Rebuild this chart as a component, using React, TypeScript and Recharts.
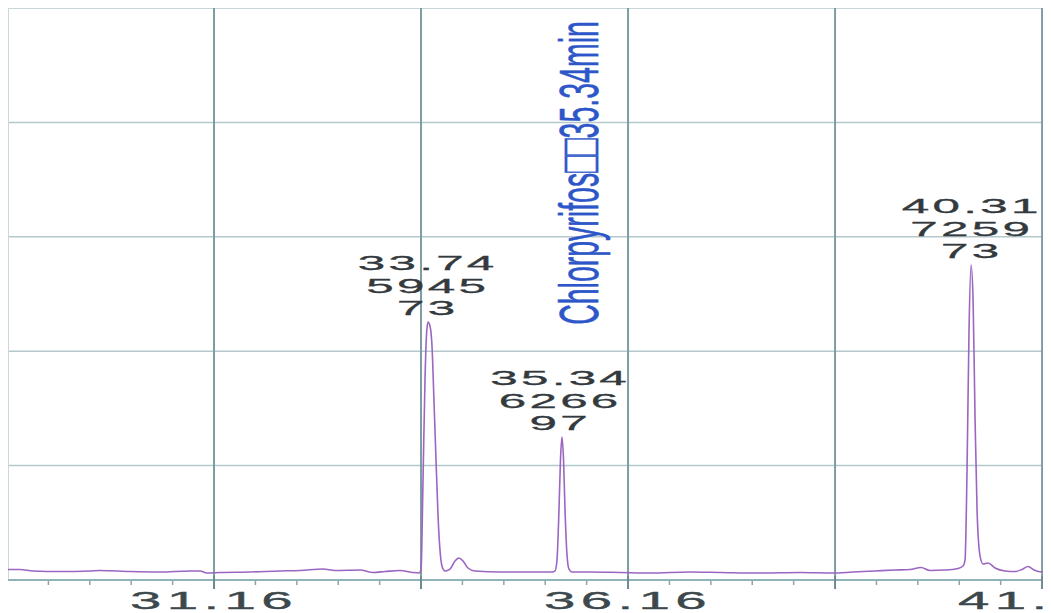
import React from 'react';
import { LineChart, Line, XAxis, YAxis, ReferenceLine, ReferenceDot } from 'recharts';

// retention time (min) and detector signal
const TIMES = [
  28.672, 28.817, 28.974, 29.3, 29.662, 29.783, 30.146, 30.508, 30.87, 30.991,
  31.075, 31.232, 31.595, 31.957, 32.199, 32.476, 32.621, 32.923, 33.08, 33.225,
  33.406, 33.551, 33.636,
  33.66, 33.684, 33.708, 33.726, 33.744, 33.768, 33.792, 33.816, 33.841, 33.865,
  33.889, 33.913, 33.949, 34.01, 34.07, 34.118, 34.167, 34.227, 34.312, 34.614,
  34.976, 35.242,
  35.278, 35.302, 35.326, 35.344, 35.362, 35.381, 35.399, 35.423, 35.447, 35.484,
  35.701, 36.063, 36.426, 36.909, 37.271, 37.754, 38.237, 38.636, 38.877, 39.143,
  39.384, 39.566, 39.699, 39.807, 39.988, 40.146, 40.206,
  40.23, 40.254, 40.278, 40.303, 40.327, 40.351, 40.375, 40.411, 40.447, 40.508,
  40.592, 40.713, 40.834, 40.918, 40.99, 41.063, 41.159, 41.268,
];
const SIGNAL = [
  0.092, 0.092, 0.079, 0.074, 0.079, 0.083, 0.074, 0.07, 0.079, 0.079,
  0.061, 0.066, 0.07, 0.079, 0.083, 0.096, 0.083, 0.087, 0.066, 0.074,
  0.083, 0.066, 0.061,
  0.087, 0.874, 1.748, 2.142, 2.255, 2.22, 2.054, 1.573, 1.049, 0.568,
  0.262, 0.122, 0.079, 0.096, 0.166, 0.192, 0.166, 0.105, 0.079, 0.07,
  0.07, 0.07,
  0.079, 0.175, 0.612, 1.049, 1.25, 1.049, 0.612, 0.219, 0.096, 0.07,
  0.07, 0.066, 0.061, 0.07, 0.066, 0.061, 0.066, 0.061, 0.07, 0.079,
  0.087, 0.092, 0.109, 0.083, 0.087, 0.101, 0.122,
  0.175, 0.962, 2.185, 2.753, 2.448, 1.399, 0.612, 0.21, 0.14, 0.149,
  0.105, 0.079, 0.074, 0.092, 0.118, 0.087, 0.07, 0.07,
];

const PEAK_TIMES = [33.74, 35.34, 40.31];
const PEAK_HEIGHTS = [2.255, 1.25, 2.753];
const PEAK_LABELS = ['33.74', '35.34', '40.31'];
const PEAK_AREAS = ['5945', '6266', '7259'];
const PEAK_IONS = ['73', '97', '73'];

const COMPOUND_NAME = 'Chlorpyrifos\u25a1\u25a135.34min';
const COMPOUND_TIME = 35.34;

const MAJOR_TICKS = [31.16, 33.66, 36.16, 38.66, 41.16];
const LABELED_TICKS = [31.16, 36.16, 41.16];
const MINOR_TICKS = [
  29.16, 29.66, 30.16, 30.66, 31.66, 32.16, 32.66, 33.16, 34.16, 34.66,
  35.16, 35.66, 36.66, 37.16, 37.66, 38.16, 39.16, 39.66, 40.16, 40.66,
];
const LEVELS = [1, 2, 3, 4, 5];

const X_MIN = 28.672;
const X_MAX = 41.268;

const data = TIMES.map((t, i) => ({ t, v: SIGNAL[i] }));
const allTicks = [...MINOR_TICKS, ...MAJOR_TICKS].sort((a, b) => a - b);
const has = (list: number[], v: number) => list.some((m) => Math.abs(m - v) < 0.001);

function TimeTick(props: any) {
  const { x, y, payload } = props;
  const v = payload.value;
  const major = has(MAJOR_TICKS, v);
  return (
    <g>
      <line
        x1={x}
        x2={x}
        y1={major ? y - 4 : y + 1}
        y2={major ? y + 9 : y + 5}
        stroke={major ? '#6d8a90' : '#8aa4aa'}
        strokeWidth={major ? 2 : 1.5}
      />
      {has(LABELED_TICKS, v) && (
        <text
          transform={`translate(${x},${y + 29}) scale(2.35,1)`}
          textAnchor="middle"
          fontFamily="'Liberation Sans', Arial, sans-serif"
          fontSize={24}
          letterSpacing={2.3}
          fill="#3c484c"
          stroke="#3c484c"
          strokeWidth={0.35}
        >
          {v.toFixed(2)}
        </text>
      )}
    </g>
  );
}

function peakLabel(i: number) {
  return ({ viewBox }: any) => {
    const cx = viewBox.x + viewBox.width / 2;
    const top = viewBox.y + viewBox.height / 2;
    const lines = [PEAK_LABELS[i], PEAK_AREAS[i], PEAK_IONS[i]];
    return (
      <g>
        {lines.map((s, k) => (
          <text
            key={k}
            transform={`translate(${cx},${top - 7 - (2 - k) * 22.5}) scale(2.35,1)`}
            textAnchor="middle"
            fontFamily="'Liberation Sans', Arial, sans-serif"
            fontSize={21}
            letterSpacing={1.4}
            fill="#33393d"
            stroke="#33393d"
            strokeWidth={0.3}
          >
            {s}
          </text>
        ))}
      </g>
    );
  };
}

function nameLabel({ viewBox }: any) {
  const cx = viewBox.x + viewBox.width / 2;
  return (
    <text
      transform={`translate(${cx + 38},165) scale(1.95,1) rotate(-90)`}
      textAnchor="middle"
      fontFamily="'Liberation Sans', Arial, sans-serif"
      fontSize={28.5}
      fill="#2d56c8"
      stroke="#2d56c8"
      strokeWidth={0.3}
    >
      {COMPOUND_NAME}
    </text>
  );
}

export default function App() {
  return (
    <div style={{ width: 1043, height: 605, background: '#fff' }}>
      <LineChart
        width={1043}
        height={605}
        data={data}
        margin={{ top: 0, right: 0, bottom: 0, left: 0 }}
      >
        <XAxis
          dataKey="t"
          type="number"
          domain={[X_MIN, X_MAX]}
          allowDataOverflow
          ticks={allTicks}
          interval={0}
          tickSize={0}
          tickMargin={0}
          tickLine={false}
          tick={<TimeTick />}
          height={33}
          axisLine={{ stroke: '#92b2ba', strokeWidth: 2 }}
        />
        <YAxis type="number" domain={[0, 5]} hide width={0} />
        {LEVELS.map((l) => (
          <ReferenceLine key={'h' + l} y={l} stroke="#b4c8cc" strokeWidth={1.5} />
        ))}
        <ReferenceLine x={X_MIN} stroke="#c8d8dc" strokeWidth={2} />
        {MAJOR_TICKS.map((m) => (
          <ReferenceLine key={'v' + m} x={m} stroke="#7f9ca2" strokeWidth={2} />
        ))}
        <Line
          dataKey="v"
          type="monotone"
          dot={false}
          stroke="#9a66c2"
          strokeWidth={1.6}
          isAnimationActive={false}
        />
        {PEAK_TIMES.map((t, i) => (
          <ReferenceDot
            key={'p' + i}
            x={t}
            y={PEAK_HEIGHTS[i]}
            r={1}
            fill="none"
            stroke="none"
            label={peakLabel(i)}
          />
        ))}
        <ReferenceDot
          x={COMPOUND_TIME}
          y={5}
          r={1}
          fill="none"
          stroke="none"
          label={nameLabel}
        />
      </LineChart>
    </div>
  );
}
